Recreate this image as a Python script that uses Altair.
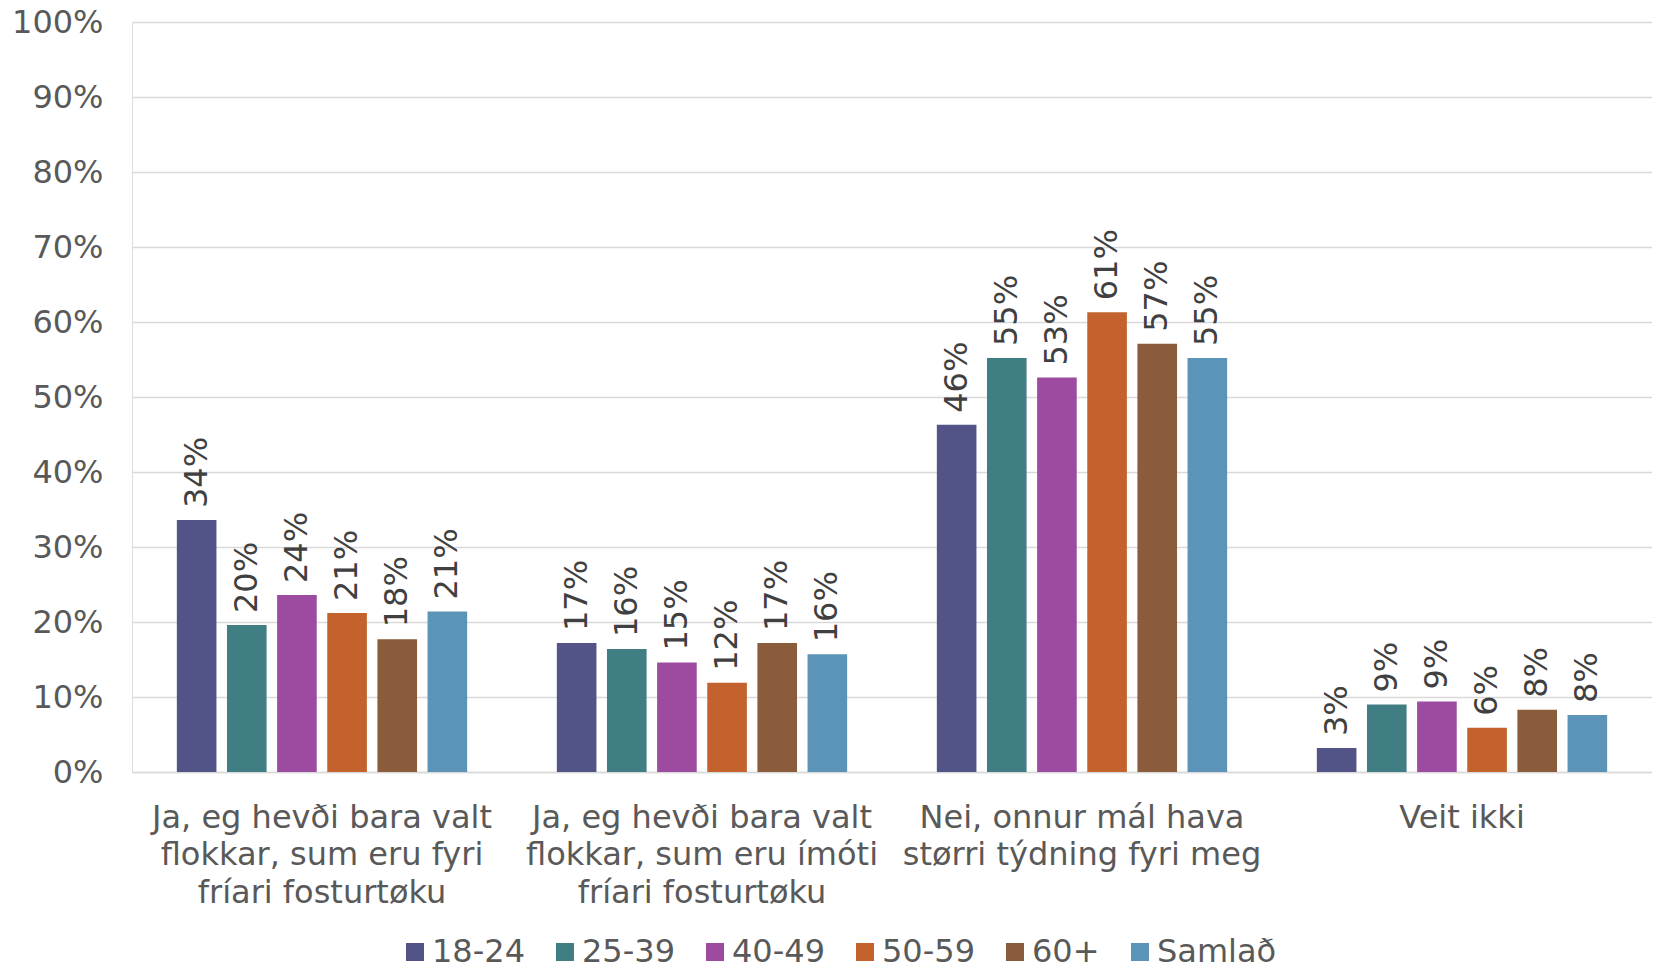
import altair as alt
import pandas as pd

categories = [
    "Ja, eg hevði bara valt|flokkar, sum eru fyri|fríari fosturtøku",
    "Ja, eg hevði bara valt|flokkar, sum eru ímóti|fríari fosturtøku",
    "Nei, onnur mál hava|størri týdning fyri meg",
    "Veit ikki",
]
groups = ["18-24", "25-39", "40-49", "50-59", "60+", "Samlað"]
colors = ["#525387", "#417E83", "#9D4BA0", "#C4622D", "#8B5C3B", "#5C93B8"]

v_18_24 = [0.336, 0.172, 0.463, 0.032]
v_25_39 = [0.196, 0.164, 0.552, 0.090]
v_40_49 = [0.236, 0.146, 0.526, 0.094]
v_50_59 = [0.212, 0.119, 0.613, 0.059]
v_60 = [0.177, 0.172, 0.571, 0.083]
v_samlad = [0.214, 0.157, 0.552, 0.076]
series = [v_18_24, v_25_39, v_40_49, v_50_59, v_60, v_samlad]

y_ticks = [0, 0.1, 0.2, 0.3, 0.4, 0.5, 0.6, 0.7, 0.8, 0.9, 1.0]

rows = []
for g, vals in zip(groups, series):
    for c, v in zip(categories, vals):
        rows.append({"category": c, "group": g, "value": v})
df = pd.DataFrame(rows)

FONT = "DejaVu Sans"
FS = 32

base = alt.Chart(df).encode(
    x=alt.X(
        "category:N",
        sort=categories,
        scale=alt.Scale(paddingInner=0.236, paddingOuter=0.118),
        axis=alt.Axis(
            title=None,
            labelExpr="split(datum.label, '|')",
            labelAngle=0,
            labelFontSize=FS,
            labelFont=FONT,
            labelColor="#595959",
            labelPadding=30,
            labelLineHeight=37.6,
            labelLimit=1000,
            ticks=False,
            tickSize=0,
            domainColor="#d9d9d9",
            domainWidth=1.5,
            grid=False,
        ),
    ),
    xOffset=alt.XOffset(
        "group:N", sort=groups, scale=alt.Scale(paddingInner=0.21, paddingOuter=0)
    ),
    y=alt.Y(
        "value:Q",
        scale=alt.Scale(domain=[0, 1]),
        axis=alt.Axis(
            title=None,
            format=".0%",
            values=y_ticks,
            labelFontSize=FS,
            labelFont=FONT,
            labelColor="#595959",
            labelPadding=29,
            ticks=False,
            domain=False,
            gridColor="#d9d9d9",
            gridWidth=1.5,
        ),
    ),
)

bars = base.mark_bar().encode(
    color=alt.Color(
        "group:N",
        sort=groups,
        scale=alt.Scale(domain=groups, range=colors),
        legend=alt.Legend(
            title=None,
            orient="none",
            legendX=267,
            legendY=914,
            direction="horizontal",
            symbolType="square",
            symbolSize=324,
            symbolStrokeWidth=0,
            labelFontSize=FS,
            labelFont=FONT,
            labelColor="#595959",
            labelOffset=1,
            columnPadding=24,
        ),
    )
)

text = base.mark_text(
    angle=270, align="left", baseline="middle", dx=12, fontSize=FS, font=FONT, color="#404040"
).encode(text=alt.Text("value:Q", format=".0%"))

chart = (
    alt.layer(bars, text)
    .properties(
        width=1520,
        height=750,
        autosize=alt.AutoSizeParams(type="none"),
        padding={"left": 124, "top": 14, "right": 0, "bottom": 215},
    )
    .configure_view(stroke=None)
    .configure(font=FONT)
)

chart.save("out.html", embed_options={"renderer": "svg", "actions": False})
